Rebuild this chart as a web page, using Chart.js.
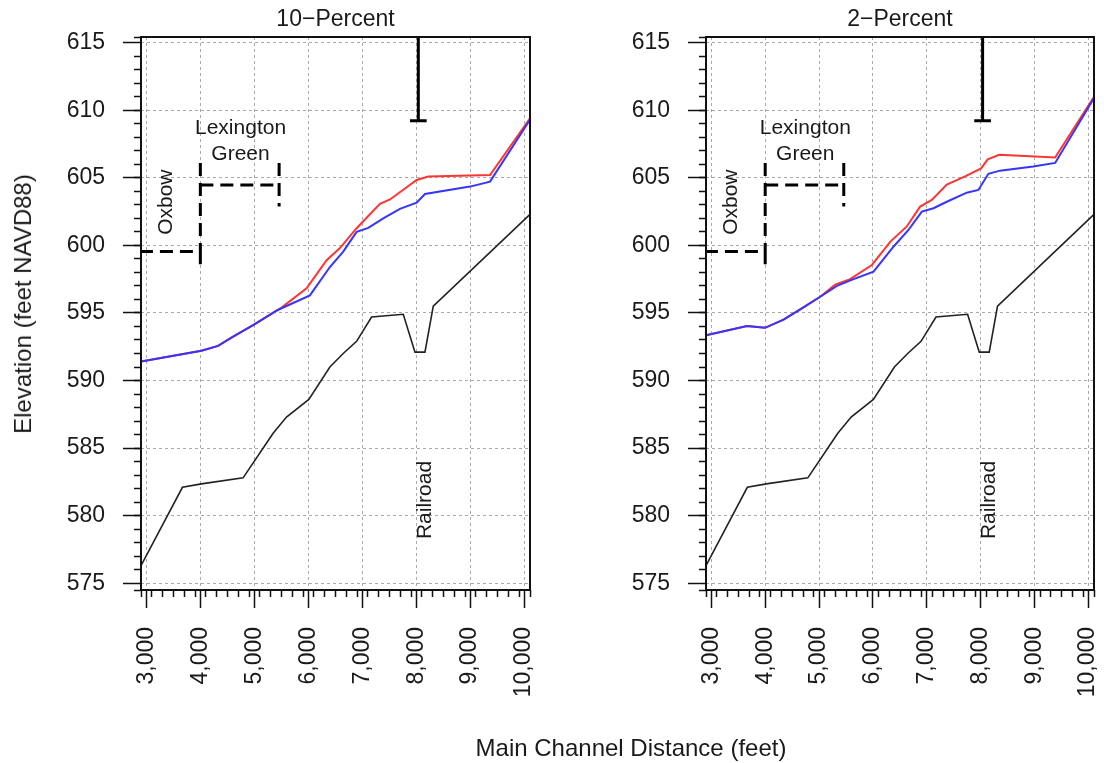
<!DOCTYPE html>
<html>
<head>
<meta charset="utf-8">
<title>Water surface profiles</title>
<script src="https://cdn.jsdelivr.net/npm/chart.js@4.4.0/dist/chart.umd.min.js"></script>
<style>
  html, body { margin: 0; padding: 0; background: #fff; }
  #wrap { position: relative; width: 1104px; height: 763px; overflow: hidden;
          font-family: "Liberation Sans", Arial, sans-serif; color: #1a1a1a; }
  canvas { position: absolute; top: 0; }
  #c10 { left: 0; }
  #c2 { left: 565px; }
  .ytitle { position: absolute; left: 22.5px; top: 304px; font-size: 24px; line-height: 1;
            white-space: nowrap; transform: translate(-50%, -50%) rotate(-90deg); }
  .xtitle { position: absolute; left: 631px; top: 748px; font-size: 24px; line-height: 1;
            white-space: nowrap; transform: translate(-50%, -50%); }
</style>
</head>
<body>
<div id="wrap">
  <canvas id="c10" width="565" height="763"></canvas>
  <canvas id="c2" width="539" height="763"></canvas>
  <div class="ytitle">Elevation (feet NAVD88)</div>
  <div class="xtitle">Main Channel Distance (feet)</div>
</div>
<script>
// Axis ticks and labels
const xTicks = [3000, 4000, 5000, 6000, 7000, 8000, 9000, 10000];
const xTickLabels = ['3,000', '4,000', '5,000', '6,000', '7,000', '8,000', '9,000', '10,000'];
const yTicks = [575, 580, 585, 590, 595, 600, 605, 610, 615];
const yTickLabels = ['575', '580', '585', '590', '595', '600', '605', '610', '615'];

// Channel bed (same in both panels)
const groundDist = [2900, 3668, 4020, 4792, 5349, 5597, 6011, 6401, 6648, 6896, 7174, 7761, 7978, 8163, 8317, 10110];
const groundElev = [576.3, 582.1, 582.35, 582.8, 586.1, 587.3, 588.6, 591.0, 592.0, 592.9, 594.7, 594.9, 592.1, 592.1, 595.5, 602.3];

// 10-percent event water surfaces
const blue10Dist = [2900, 4020, 4329, 4607, 4978, 5412, 5505, 6030, 6401, 6648, 6896, 7112, 7390, 7699, 8009, 8163, 8998, 9369, 10110];
const blue10Elev = [591.4, 592.2, 592.56, 593.25, 594.1, 595.17, 595.35, 596.3, 598.4, 599.54, 601.0, 601.3, 602.0, 602.7, 603.16, 603.8, 604.35, 604.72, 609.3];
const red10Dist = [2900, 4020, 4329, 4607, 4978, 5412, 5505, 5968, 6340, 6586, 6896, 7328, 7514, 8009, 8225, 9369, 10110];
const red10Elev = [591.4, 592.2, 592.56, 593.25, 594.1, 595.17, 595.4, 596.83, 598.9, 599.8, 601.27, 603.07, 603.4, 604.84, 605.1, 605.2, 609.4];

// 2-percent event water surfaces
const blue2Dist = [2900, 3662, 3996, 4341, 4651, 5022, 5332, 5642, 6013, 6383, 6662, 6911, 7127, 7374, 7745, 7961, 8147, 8361, 8980, 9388, 10110];
const blue2Elev = [593.35, 594.04, 593.9, 594.5, 595.27, 596.2, 597.0, 597.5, 598.06, 599.9, 601.14, 602.5, 602.75, 603.23, 603.9, 604.1, 605.3, 605.53, 605.83, 606.1, 610.9];
const red2Dist = [2900, 3662, 3996, 4341, 4651, 5022, 5300, 5578, 5982, 6326, 6631, 6878, 7095, 7374, 7714, 8011, 8135, 8348, 9388, 10110];
const red2Elev = [593.35, 594.04, 593.9, 594.5, 595.27, 596.2, 597.1, 597.5, 598.55, 600.28, 601.4, 602.87, 603.36, 604.5, 605.1, 605.7, 606.37, 606.7, 606.5, 611.0];

// Oxbow / Lexington Green reach brackets (null breaks the line)
const bracketDist = [2880, 4000, 4000, 4000, 4000, 4000, 4000, 4000, 5460, 5460, 5460, 5460];
const bracketElev = [599.54, 599.54, 598.2, null, 606.1, 599.54, null, 604.47, 604.47, null, 606.1, 602.87];

// Railroad crossing marker
const markDist = [8040, 8040, 8040, 7885, 8195];
const markElev = [616.5, 609.23, null, 609.23, 609.23];

// Text labels placed in data units
const notes = [
  { text: 'Lexington', x: 4745, y: 608.7, vertical: false },
  { text: 'Green', x: 4745, y: 606.76, vertical: false },
  { text: 'Oxbow', x: 3375, y: 603.2, vertical: true },
  { text: 'Railroad', x: 8160, y: 581.16, vertical: true }
];

const TEXT = '#1a1a1a';
const FONT = '"Liberation Sans", Arial, sans-serif';
Chart.defaults.font.family = FONT;
Chart.defaults.color = TEXT;

function pts(d, e) { return d.map((v, i) => ({ x: v, y: e[i] })); }

const panelFrame = {
  id: 'panelFrame',
  afterDraw(chart) {
    const { ctx, chartArea: a } = chart;
    ctx.save();
    ctx.strokeStyle = '#111';
    ctx.lineWidth = 2;
    ctx.strokeRect(a.left, a.top, a.right - a.left, a.bottom - a.top);
    ctx.restore();
  }
};

const panelNotes = {
  id: 'panelNotes',
  afterDatasetsDraw(chart) {
    const { ctx, scales } = chart;
    ctx.save();
    ctx.fillStyle = TEXT;
    ctx.font = '21px ' + FONT;
    ctx.textAlign = 'center';
    ctx.textBaseline = 'middle';
    notes.forEach(n => {
      const px = scales.x.getPixelForValue(n.x);
      const py = scales.y.getPixelForValue(n.y);
      ctx.save();
      ctx.translate(px, py);
      if (n.vertical) ctx.rotate(-Math.PI / 2);
      ctx.fillText(n.text, 0, 0);
      ctx.restore();
    });
    ctx.restore();
  }
};

function makePanel(id, titleText, rightPad, blueD, blueE, redD, redE) {
  const line = (data, color, width, extra) => Object.assign({
    data, borderColor: color, borderWidth: width, pointRadius: 0,
    tension: 0, fill: false, spanGaps: false, xAxisID: 'x', yAxisID: 'y'
  }, extra || {});

  return new Chart(document.getElementById(id), {
    type: 'line',
    data: {
      datasets: [
        line(pts(blueD, blueE), '#3535ff', 2),
        line(pts(redD, redE), '#ff3535', 2),
        line(pts(groundDist, groundElev), '#222', 1.6),
        line(pts(bracketDist, bracketElev), '#000', 3, { borderDash: [13, 7] }),
        line(pts(markDist, markElev), '#000', 3)
      ]
    },
    options: {
      responsive: false,
      animation: false,
      events: [],
      layout: { padding: { left: 0, right: rightPad, top: 0, bottom: 0 } },
      plugins: {
        legend: { display: false },
        tooltip: { enabled: false },
        title: {
          display: true, text: titleText, fullSize: false, color: TEXT,
          font: { size: 23, weight: 'normal', lineHeight: 1.2 },
          padding: { top: 6, bottom: 3.4 }
        }
      },
      scales: {
        x: {
          type: 'linear', axis: 'x', position: 'bottom', min: 2900, max: 10110, weight: 1,
          afterBuildTicks: s => { s.ticks = xTicks.map(v => ({ value: v })); },
          afterFit: s => { s.height = 173; s.paddingLeft = 0; s.paddingRight = 0; },
          ticks: {
            autoSkip: false, minRotation: 90, maxRotation: 90, padding: 19,
            font: { size: 23 }, color: TEXT,
            callback: (v, i) => xTickLabels[i]
          },
          grid: { color: '#a9a9a9', lineWidth: 1, tickLength: 18, tickColor: '#111', tickWidth: 1.5 },
          border: { display: false, dash: [3, 3] }
        },
        xMinor: {
          type: 'linear', axis: 'x', position: 'bottom', min: 2900, max: 10110, weight: 0,
          afterFit: s => { s.height = 0; s.paddingLeft = 0; s.paddingRight = 0; },
          ticks: { stepSize: 200, display: false },
          grid: { drawOnChartArea: false, tickLength: 7, tickColor: '#111', tickWidth: 1.5 },
          border: { display: false }
        },
        y: {
          type: 'linear', axis: 'y', position: 'left', min: 574.5, max: 615.42, weight: 1,
          afterBuildTicks: s => { s.ticks = yTicks.map(v => ({ value: v })); },
          afterFit: s => { s.width = 141; s.paddingTop = 0; s.paddingBottom = 0; },
          ticks: {
            padding: 18, font: { size: 23 }, color: TEXT,
            callback: (v, i) => yTickLabels[i]
          },
          grid: { color: '#a9a9a9', lineWidth: 1, tickLength: 18, tickColor: '#111', tickWidth: 1.5 },
          border: { display: false, dash: [3, 3] }
        },
        yMinor: {
          type: 'linear', axis: 'y', position: 'left', min: 574.5, max: 615.42, weight: 0,
          afterFit: s => { s.width = 0; s.paddingTop = 0; s.paddingBottom = 0; },
          ticks: { stepSize: 1, display: false },
          grid: { drawOnChartArea: false, tickLength: 7, tickColor: '#111', tickWidth: 1.5 },
          border: { display: false }
        }
      }
    },
    plugins: [panelNotes, panelFrame]
  });
}

makePanel('c10', '10\u2212Percent', 35, blue10Dist, blue10Elev, red10Dist, red10Elev);
makePanel('c2', '2\u2212Percent', 10, blue2Dist, blue2Elev, red2Dist, red2Elev);
</script>
</body>
</html>
